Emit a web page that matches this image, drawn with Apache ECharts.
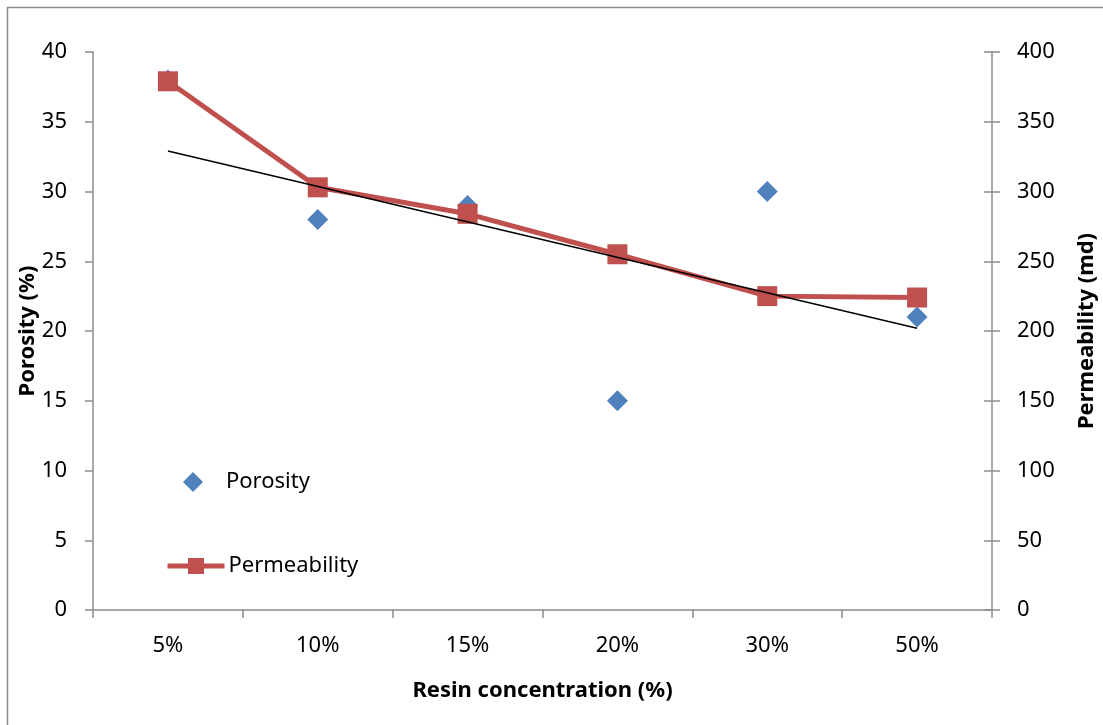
<!DOCTYPE html>
<html>
<head>
<meta charset="utf-8">
<script src="https://cdn.jsdelivr.net/npm/echarts@6/dist/echarts.min.js"></script>
<style>
html,body{margin:0;padding:0;background:#fff;}
#chart{width:1103px;height:725px;}
</style>
</head>
<body>
<div id="chart"></div>
<script>
// ---- data ----
var categories = ['5%', '10%', '15%', '20%', '30%', '50%'];
var porosity = [38, 28, 29, 15, 30, 21];
var permeability = [379, 303, 284, 255, 225, 224];
// linear trendline of porosity (endpoints as drawn in the reference)
var porosityTrend = [32.9, null, null, null, null, 20.2];
var leftTicks = {min: 0, max: 40, interval: 5};
var rightTicks = {min: 0, max: 400, interval: 50};

var FONT = 'Noto Sans';
var axisGray = '#8c8c8c';

var chart = echarts.init(document.getElementById('chart'));
chart.setOption({
  animation: false,
  backgroundColor: '#fff',
  textStyle: {fontFamily: FONT},
  graphic: [{
    type: 'rect',
    shape: {x: 7.5, y: 7.5, width: 1200, height: 800},
    style: {fill: 'none', stroke: axisGray, lineWidth: 1.5},
    silent: true, z: -10
  }],
  grid: {left: 93, right: 111, top: 52, bottom: 115, containLabel: false, outerBoundsMode: 'none'},
  legend: [{
    data: [{name: 'Porosity', icon: 'diamond', itemStyle: {opacity: 1}}],
    left: 178, top: 466,
    itemWidth: 20, itemHeight: 20,
    itemGap: 0,
    textStyle: {fontFamily: FONT, fontSize: 22, color: '#000', padding: [0, 0, 0, 18]}
  }, {
    data: ['Permeability'],
    left: 160, top: 550,
    itemWidth: 57, itemHeight: 20,
    lineStyle: {width: 5, color: '#C0504D'},
    textStyle: {fontFamily: FONT, fontSize: 22, color: '#000', padding: [0, 0, 0, -1]}
  }],
  xAxis: {
    type: 'category',
    data: categories,
    boundaryGap: true,
    axisLine: {lineStyle: {color: axisGray, width: 1.5}},
    axisTick: {show: true, length: 8, lineStyle: {color: axisGray, width: 1.5}, alignWithLabel: false},
    axisLabel: {color: '#000', fontSize: 22, fontFamily: FONT, margin: 25},
    splitLine: {show: false},
    name: 'Resin concentration (%)',
    nameLocation: 'middle',
    nameGap: 70,
    nameMoveOverlap: false,
    nameTextStyle: {color: '#000', fontSize: 22, fontWeight: 'bold', fontFamily: FONT}
  },
  yAxis: [{
    type: 'value',
    position: 'left',
    min: leftTicks.min, max: leftTicks.max, interval: leftTicks.interval,
    axisLine: {show: true, lineStyle: {color: axisGray, width: 1.5}},
    axisTick: {show: true, length: 8, lineStyle: {color: axisGray, width: 1.5}},
    axisLabel: {color: '#000', fontSize: 22, fontFamily: FONT, margin: 26},
    splitLine: {show: false},
    name: 'Porosity (%)',
    nameLocation: 'middle',
    nameGap: 54,
    nameMoveOverlap: false,
    nameTextStyle: {color: '#000', fontSize: 22, fontWeight: 'bold', fontFamily: FONT}
  }, {
    type: 'value',
    position: 'right',
    min: rightTicks.min, max: rightTicks.max, interval: rightTicks.interval,
    axisLine: {show: true, lineStyle: {color: axisGray, width: 1.5}},
    axisTick: {show: true, length: 8, lineStyle: {color: axisGray, width: 1.5}},
    axisLabel: {color: '#000', fontSize: 22, fontFamily: FONT, margin: 25},
    splitLine: {show: false},
    name: 'Permeability (md)',
    nameLocation: 'middle',
    nameGap: 84,
    nameMoveOverlap: false,
    nameTextStyle: {color: '#000', fontSize: 22, fontWeight: 'bold', fontFamily: FONT}
  }, {
    type: 'value',
    position: 'right',
    min: rightTicks.min, max: rightTicks.max, interval: rightTicks.interval,
    axisLine: {show: false},
    axisTick: {show: true, inside: true, length: 8, lineStyle: {color: axisGray, width: 1.5}},
    axisLabel: {show: false},
    splitLine: {show: false}
  }],
  series: [{
    name: 'Porosity',
    type: 'scatter',
    yAxisIndex: 0,
    data: porosity,
    symbol: 'diamond',
    symbolSize: 21,
    itemStyle: {color: '#4F81BD', opacity: 1},
    z: 2
  }, {
    name: 'Permeability',
    type: 'line',
    yAxisIndex: 1,
    data: permeability,
    symbol: 'rect',
    symbolSize: 20,
    lineStyle: {color: '#C0504D', width: 5},
    itemStyle: {color: '#C0504D'},
    z: 3
  }, {
    name: 'Trend',
    type: 'line',
    yAxisIndex: 0,
    data: porosityTrend,
    connectNulls: true,
    showSymbol: false,
    symbol: 'none',
    lineStyle: {color: '#000', width: 1.5},
    z: 4
  }]
});
</script>
</body>
</html>
